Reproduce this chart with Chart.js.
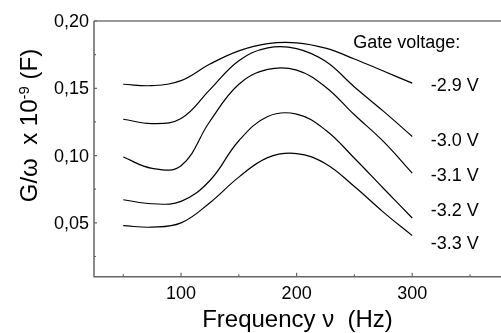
<!DOCTYPE html>
<html>
<head>
<meta charset="utf-8">
<script src="https://cdn.jsdelivr.net/npm/chart.js@4/dist/chart.umd.min.js"></script>
<style>
  html, body { margin: 0; padding: 0; background: #fff; overflow: hidden; }
  #wrap { width: 501px; height: 333px; }
</style>
</head>
<body>
<div id="wrap"><canvas id="myChart" width="501" height="333"></canvas></div>
<script>
var frequency = [50, 75, 100, 125, 150, 175, 200, 225, 250, 275, 300];

// G/omega x 1e-9 (F), one array per gate voltage
var g29 = [0.153, 0.152, 0.1557, 0.168, 0.1778, 0.1832, 0.1838, 0.1798, 0.1718, 0.1628, 0.1538];
var g30 = [0.127, 0.1238, 0.1275, 0.149, 0.1705, 0.180, 0.1795, 0.170, 0.151, 0.133, 0.1142];
var g31 = [0.0989, 0.0905, 0.0925, 0.1255, 0.153, 0.164, 0.1635, 0.151, 0.1303, 0.1105, 0.087];
var g32 = [0.0672, 0.0642, 0.066, 0.0815, 0.111, 0.129, 0.1308, 0.119, 0.098, 0.0757, 0.0536];
var g33 = [0.0479, 0.0468, 0.050, 0.065, 0.084, 0.0985, 0.1015, 0.094, 0.077, 0.058, 0.0405];

var gateLabels = ['-2.9 V', '-3.0 V', '-3.1 V', '-3.2 V', '-3.3 V'];
var gateLabelY = [0.1518, 0.1105, 0.0845, 0.0585, 0.0343];
var gateLabelX = 316;

var xTicks = [100, 200, 300];
var xMinorTicks = [50, 150, 250, 350];
var yTicks = [0.05, 0.10, 0.15, 0.20];
var yMinorTicks = [0.025, 0.075, 0.125, 0.175];

var series = [g29, g30, g31, g32, g33];

function toPoints(values) {
  return values.map(function (v, i) { return { x: frequency[i], y: v }; });
}

var FONT = '"Liberation Sans", Arial, sans-serif';

// axes, ticks, labels and titles drawn against the chart's own scales
var decorations = {
  id: 'decorations',
  afterDraw: function (chart) {
    var ctx = chart.ctx;
    var area = chart.chartArea;
    var xs = chart.scales.x;
    var ys = chart.scales.y;
    ctx.save();

    // top frame line
    ctx.strokeStyle = '#333';
    ctx.lineWidth = 1.2;
    ctx.beginPath();
    ctx.moveTo(area.left, area.top);
    ctx.lineTo(area.right + 2, area.top);
    ctx.stroke();

    // left and bottom axes
    ctx.strokeStyle = '#666';
    ctx.lineWidth = 1.5;
    ctx.beginPath();
    ctx.moveTo(area.left, area.top);
    ctx.lineTo(area.left, area.bottom);
    ctx.lineTo(area.right + 2, area.bottom);
    ctx.stroke();

    // inward tick marks
    ctx.lineWidth = 1.2;
    ctx.beginPath();
    xTicks.forEach(function (v) {
      var px = xs.getPixelForValue(v);
      ctx.moveTo(px, area.bottom); ctx.lineTo(px, area.bottom - 4);
    });
    xMinorTicks.forEach(function (v) {
      var px = xs.getPixelForValue(v);
      ctx.moveTo(px, area.bottom); ctx.lineTo(px, area.bottom - 2.5);
    });
    yTicks.forEach(function (v) {
      var py = ys.getPixelForValue(v);
      ctx.moveTo(area.left, py); ctx.lineTo(area.left + 3, py);
    });
    yMinorTicks.forEach(function (v) {
      var py = ys.getPixelForValue(v);
      ctx.moveTo(area.left, py); ctx.lineTo(area.left + 2, py);
    });
    ctx.stroke();

    // tick labels
    ctx.fillStyle = '#000';
    ctx.font = '18px ' + FONT;
    ctx.textAlign = 'right';
    ctx.textBaseline = 'middle';
    yTicks.forEach(function (v) {
      ctx.fillText(v.toFixed(2).replace('.', ','), area.left - 5, ys.getPixelForValue(v) + 1);
    });
    ctx.textAlign = 'center';
    ctx.textBaseline = 'alphabetic';
    xTicks.forEach(function (v) {
      ctx.fillText(String(v), xs.getPixelForValue(v), area.bottom + 22);
    });

    // gate voltage annotations
    ctx.textAlign = 'left';
    ctx.textBaseline = 'middle';
    ctx.fillText('Gate voltage:', xs.getPixelForValue(249), ys.getPixelForValue(0.1837));
    gateLabels.forEach(function (t, i) {
      ctx.fillText(t, xs.getPixelForValue(gateLabelX), ys.getPixelForValue(gateLabelY[i]));
    });

    // x axis title
    ctx.font = '24px ' + FONT;
    ctx.textAlign = 'center';
    ctx.textBaseline = 'alphabetic';
    ctx.fillText('Frequency \u03bd  (Hz)', (area.left + area.right) / 2, 326.5);

    // y axis title with superscript
    var part1 = 'G/\u03c9  x 10';
    var sup = '-9';
    var part2 = ' (F)';
    ctx.font = '24px ' + FONT;
    var w1 = ctx.measureText(part1).width;
    var w3 = ctx.measureText(part2).width;
    ctx.font = '15px ' + FONT;
    var w2 = ctx.measureText(sup).width;
    var total = w1 + w2 + w3;
    ctx.translate(36.5, 125.5 + total / 2);
    ctx.rotate(-Math.PI / 2);
    ctx.textAlign = 'left';
    ctx.font = '24px ' + FONT;
    ctx.fillText(part1, 0, 0);
    ctx.font = '15px ' + FONT;
    ctx.fillText(sup, w1, -8);
    ctx.font = '24px ' + FONT;
    ctx.fillText(part2, w1 + w2, 0);

    ctx.restore();
  }
};

var myChart = new Chart(document.getElementById('myChart'), {
  type: 'line',
  data: {
    datasets: series.map(function (vals, i) {
      return {
        label: gateLabels[i],
        data: toPoints(vals),
        borderColor: '#000',
        borderWidth: 1.2,
        pointRadius: 0,
        tension: 0.4,
        fill: false
      };
    })
  },
  options: {
    responsive: false,
    animation: false,
    devicePixelRatio: 1,
    layout: { padding: { left: 94, top: 21, right: 0, bottom: 56.3 } },
    plugins: { legend: { display: false }, tooltip: { enabled: false } },
    scales: {
      x: { type: 'linear', min: 24.7, max: 376.8, display: false },
      y: { type: 'linear', min: 0.01, max: 0.20, display: false }
    }
  },
  plugins: [decorations]
});
</script>
</body>
</html>
